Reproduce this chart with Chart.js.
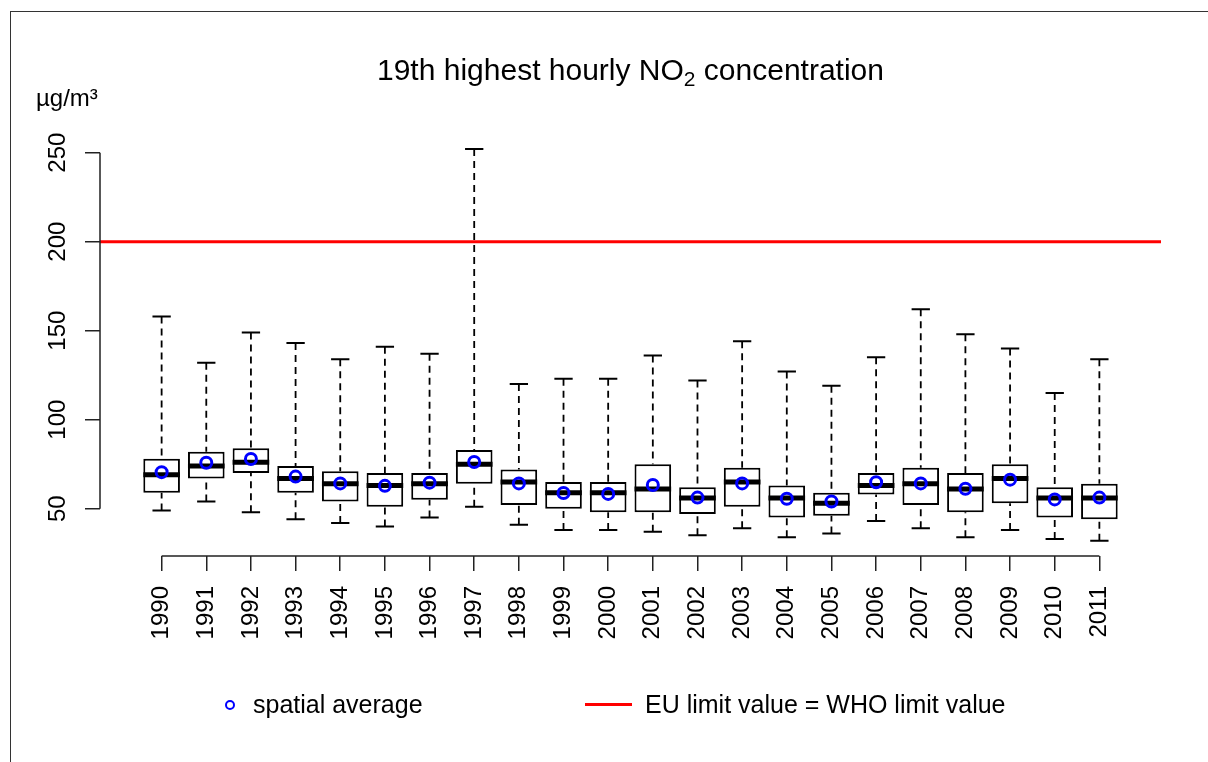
<!DOCTYPE html>
<html>
<head>
<meta charset="utf-8">
<script src="https://cdn.jsdelivr.net/npm/chart.js@4.4.1/dist/chart.umd.min.js"></script>
<style>
  body { margin: 0; background: #fff; font-family: "Liberation Sans", Arial, sans-serif; }
  #wrap { position: relative; width: 1208px; height: 762px; overflow: hidden; }
  #frame { position: absolute; left: 10px; top: 11px; width: 1400px; height: 900px;
           border-left: 1.5px solid #333; border-top: 1.5px solid #333; }
  #chartBox { position: absolute; left: 0; top: 0; width: 1208px; height: 762px; }
  .txt { position: absolute; color: #000; white-space: nowrap; line-height: 1; }
  #title { left: 100px; width: 1061px; text-align: center; top: 55px; font-size: 30px; }
  #title sub { font-size: 70%; vertical-align: -0.3em; line-height: 0; }
  #unit { left: 36px; top: 86px; font-size: 24px; }
  .leg { top: 692px; font-size: 25px; }
  #legDot { position: absolute; left: 225px; top: 700px; width: 6px; height: 6px;
            border: 2px solid #0000ff; border-radius: 50%; }
  #legLine { position: absolute; left: 585px; top: 703px; width: 47px; height: 3px; background: #ff0000; }
</style>
</head>
<body>
<div id="wrap">
  <div id="frame"></div>
  <div id="chartBox"><canvas id="c"></canvas></div>
  <div class="txt" id="title">19th highest hourly NO<sub>2</sub> concentration</div>
  <div class="txt" id="unit">µg/m³</div>
  <div id="legDot"></div>
  <div class="txt leg" style="left:253px">spatial average</div>
  <div id="legLine"></div>
  <div class="txt leg" style="left:645px">EU limit value = WHO limit value</div>
</div>
<script>
// values (µg/m³)
const years = ["1990","1991","1992","1993","1994","1995","1996","1997","1998","1999","2000",
               "2001","2002","2003","2004","2005","2006","2007","2008","2009","2010","2011"];
const whiskerHigh = [158, 132, 149, 143, 134, 141, 137, 252, 120, 123, 123, 136, 122, 144, 127, 119, 135, 162, 148, 140, 115, 134];
const q3          = [78, 82, 84, 74, 71, 70, 70, 83, 72, 65, 65, 75, 62, 73, 63, 59, 70, 73, 70, 75, 62, 64];
const median      = [69, 74, 76, 67, 64, 63, 64, 75, 65, 59, 59, 61, 56, 65, 56, 53, 63, 64, 61, 67, 56, 56];
const q1          = [59, 67, 70, 59, 54, 51, 55, 64, 52, 50, 48, 48, 47, 51, 45, 46, 58, 52, 48, 53, 45, 44];
const whiskerLow  = [49, 54, 48, 44, 42, 40, 45, 51, 41, 38, 38, 37, 35, 39, 34, 36, 43, 39, 34, 38, 33, 32];
const spatialAvg  = [70.5, 75.8, 77.9, 68, 64.2, 62.8, 64.6, 76.2, 64.2, 58.8, 58.3, 63.3, 56.2, 64.2, 55.6, 54, 64.8, 64.2, 61.2, 66.3, 55.2, 56.2];
const yTicks = [50, 100, 150, 200, 250];
const limitValue = 200;

// whiskers, staples and medians on top of the boxes, then limit line + R-style axis lines
const boxExtras = {
  id: "boxExtras",
  afterDatasetDraw(chart, args) {
    if (args.index !== 0) return;
    const ctx = chart.ctx;
    const ys = chart.scales.y;
    ctx.save();
    ctx.strokeStyle = "#000";
    args.meta.data.forEach((bar, i) => {
      const { x, width } = bar.getProps(["x", "width"], true);
      const half = width / 2;
      const cap = width / 4;
      const yHi = ys.getPixelForValue(whiskerHigh[i]);
      const yLo = ys.getPixelForValue(whiskerLow[i]);
      ctx.lineWidth = 1.8;
      ctx.setLineDash([7, 5]);
      ctx.beginPath();
      ctx.moveTo(x, yHi); ctx.lineTo(x, ys.getPixelForValue(q3[i]));
      ctx.moveTo(x, yLo); ctx.lineTo(x, ys.getPixelForValue(q1[i]));
      ctx.stroke();
      ctx.setLineDash([]);
      ctx.lineWidth = 2;
      ctx.beginPath();
      ctx.moveTo(x - cap, yHi); ctx.lineTo(x + cap, yHi);
      ctx.moveTo(x - cap, yLo); ctx.lineTo(x + cap, yLo);
      ctx.stroke();
      const ym = ys.getPixelForValue(median[i]);
      ctx.lineWidth = 5;
      ctx.beginPath();
      ctx.moveTo(x - half, ym); ctx.lineTo(x + half, ym);
      ctx.stroke();
    });
    ctx.restore();
  },
  afterDatasetsDraw(chart) {
    const ctx = chart.ctx;
    const { left, right, bottom } = chart.chartArea;
    const xs = chart.scales.x, ys = chart.scales.y;
    ctx.save();
    ctx.strokeStyle = "#ff0000";
    ctx.lineWidth = 3;
    const yl = ys.getPixelForValue(limitValue);
    ctx.beginPath(); ctx.moveTo(left, yl); ctx.lineTo(right, yl); ctx.stroke();
    ctx.strokeStyle = "#222";
    ctx.lineWidth = 1.5;
    ctx.beginPath();
    ctx.moveTo(left, ys.getPixelForValue(yTicks[0]));
    ctx.lineTo(left, ys.getPixelForValue(yTicks[yTicks.length - 1]));
    ctx.moveTo(xs.getPixelForValue(0), bottom);
    ctx.lineTo(xs.getPixelForValue(years.length - 1), bottom);
    ctx.stroke();
    ctx.restore();
  }
};

const font = { family: "'Liberation Sans', Arial, sans-serif", size: 24 };

new Chart(document.getElementById("c"), {
  type: "bar",
  data: {
    datasets: [
      {
        label: "boxes",
        data: years.map((y, i) => ({ x: i, y: [q1[i], q3[i]] })),
        backgroundColor: "#fff",
        borderColor: "#000",
        borderWidth: 2,
        borderSkipped: false,
        barPercentage: 0.82,
        categoryPercentage: 1,
        order: 2
      },
      {
        type: "scatter",
        label: "spatial average",
        data: years.map((y, i) => ({ x: i, y: spatialAvg[i] })),
        pointRadius: 5.5,
        pointBorderWidth: 3,
        pointBackgroundColor: "rgba(0,0,0,0)",
        pointBorderColor: "#0000ff",
        order: 1
      }
    ]
  },
  options: {
    responsive: true,
    maintainAspectRatio: false,
    animation: false,
    events: [],
    layout: { padding: { top: 132, right: 47, left: 0, bottom: 0 } },
    plugins: { legend: { display: false }, tooltip: { enabled: false } },
    scales: {
      x: {
        type: "linear",
        offset: false,
        min: -1.38,
        max: 22.38,
        afterBuildTicks: (s) => { s.ticks = years.map((y, i) => ({ value: i })); },
        afterFit: (s) => { s.height = 206; },
        ticks: {
          autoSkip: false,
          minRotation: 90,
          maxRotation: 90,
          padding: 15,
          color: "#000",
          font: font,
          callback: (v) => years[v]
        },
        grid: { offset: false, drawOnChartArea: false, drawTicks: true, tickLength: 15, lineWidth: 1.5, color: "#222" },
        border: { display: false }
      },
      y: {
        min: 23.4,
        max: 261.6,
        afterBuildTicks: (s) => { s.ticks = yTicks.map((v) => ({ value: v })); },
        afterFit: (s) => { s.width = 100; },
        ticks: {
          autoSkip: false,
          minRotation: 90,
          maxRotation: 90,
          crossAlign: "center",
          padding: 7,
          color: "#000",
          font: font
        },
        grid: { drawOnChartArea: false, drawTicks: true, tickLength: 15, lineWidth: 1.5, color: "#222" },
        border: { display: false }
      }
    }
  },
  plugins: [boxExtras]
});
</script>
</body>
</html>
